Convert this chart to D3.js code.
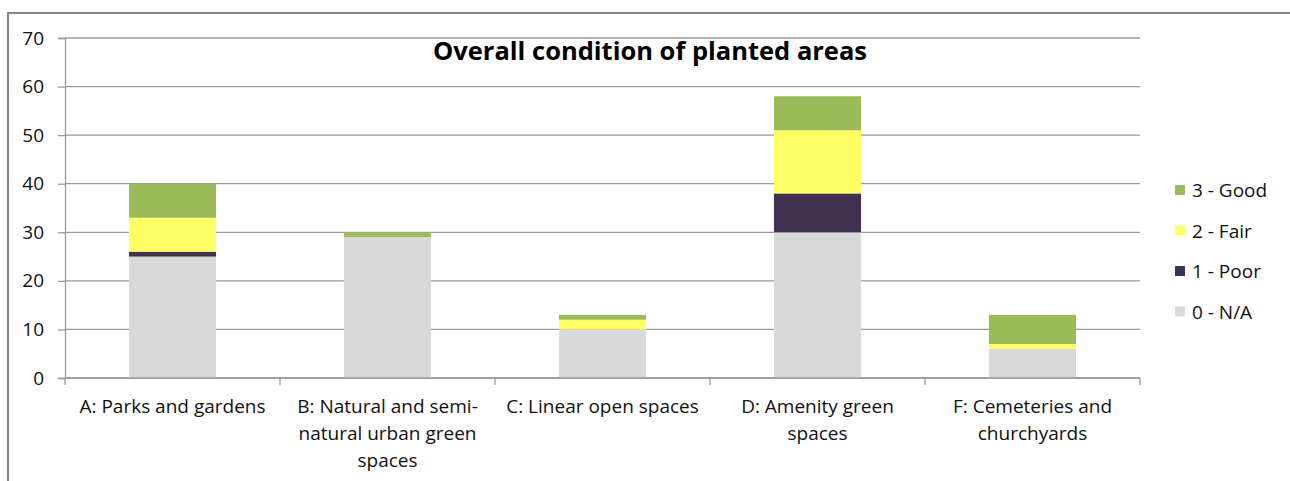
<!DOCTYPE html>
<html><head><meta charset="utf-8">
<script src="https://cdn.jsdelivr.net/npm/d3@7"></script>
<style>
html,body{margin:0;padding:0;background:#fff;}
svg{display:block;font-family:"Open Sans","Liberation Sans",Arial,sans-serif;}
</style></head>
<body><svg id="c" width="1290" height="481"></svg>
<script>
const categories = ["A: Parks and gardens","B: Natural and semi-natural urban green spaces","C: Linear open spaces","D: Amenity green spaces","F: Cemeteries and churchyards"];
const categoryLines = [["A: Parks and gardens"],["B: Natural and semi-","natural urban green","spaces"],["C: Linear open spaces"],["D: Amenity green","spaces"],["F: Cemeteries and","churchyards"]];
const seriesNames = ["0 - N/A","1 - Poor","2 - Fair","3 - Good"];
const naValues   = [25, 29, 10, 30, 6];
const poorValues = [1, 0, 0, 8, 0];
const fairValues = [7, 0, 2, 13, 1];
const goodValues = [7, 1, 1, 7, 6];
const seriesColors = ["#D9D9D9","#403151","#FFFF66","#9BBB59"];
const yTicks = [0,10,20,30,40,50,60,70];
const title = "Overall condition of planted areas";

const svg = d3.select("#c");
svg.append("rect").attr("x",8).attr("y",13).attr("width",1300).attr("height",500)
  .attr("fill","none").attr("stroke","#868686").attr("stroke-width",2);

const L=65, R=1140, T=38, B=378;
const x = d3.scaleBand().domain(categories).range([L,R]).padding(0);
const y = d3.scaleLinear().domain([0,70]).range([B,T]);

svg.append("g").selectAll("line").data(yTicks).join("line")
  .attr("x1",L).attr("x2",R).attr("y1",d=>y(d)).attr("y2",d=>y(d))
  .attr("stroke","#9a9a9a").attr("stroke-width",1.3);

const data = categories.map((c,i)=>({cat:c, "0 - N/A":naValues[i], "1 - Poor":poorValues[i], "2 - Fair":fairValues[i], "3 - Good":goodValues[i]}));
const stacked = d3.stack().keys(seriesNames)(data);
const color = d3.scaleOrdinal().domain(seriesNames).range(seriesColors);
const bw = x.bandwidth()*0.405;

svg.append("g").selectAll("g").data(stacked).join("g").attr("fill",d=>color(d.key))
  .selectAll("rect").data(d=>d).join("rect")
  .attr("x",d=>x(d.data.cat)+(x.bandwidth()-bw)/2)
  .attr("width",bw)
  .attr("y",d=>y(d[1]))
  .attr("height",d=>y(d[0])-y(d[1]));

const ya = svg.append("g").attr("transform",`translate(${L},0)`)
  .call(d3.axisLeft(y).tickValues(yTicks).tickSize(7).tickPadding(14));
ya.select(".domain").attr("stroke","#9a9a9a").attr("stroke-width",1.3);
ya.selectAll(".tick line").attr("stroke","#9a9a9a").attr("stroke-width",1.3);
ya.selectAll(".tick text").attr("font-size",19).attr("fill","#111").attr("font-family","Open Sans, Liberation Sans, Arial, sans-serif");

svg.append("line").attr("x1",L).attr("x2",R).attr("y1",B).attr("y2",B).attr("stroke","#9a9a9a").attr("stroke-width",1.3);
const bounds = categories.map(c=>x(c)).concat([R]);
svg.append("g").selectAll("line").data(bounds).join("line")
  .attr("x1",d=>d).attr("x2",d=>d).attr("y1",B).attr("y2",B+7)
  .attr("stroke","#9a9a9a").attr("stroke-width",1.3);

const xl = svg.append("g");
categories.forEach((c,i)=>{
  const t = xl.append("text").attr("x",x(c)+x.bandwidth()/2).attr("y",413)
    .attr("text-anchor","middle").attr("font-size",19).attr("fill","#111");
  categoryLines[i].forEach((ln,j)=>{
    t.append("tspan").attr("x",x(c)+x.bandwidth()/2).attr("dy",j===0?0:27).text(ln);
  });
});

svg.append("text").attr("x",650).attr("y",60).attr("text-anchor","middle")
  .attr("font-size",25.5).attr("font-weight","bold").attr("fill","#000").text(title);

const legendOrder = seriesNames.slice().reverse();
const lg = svg.append("g");
legendOrder.forEach((s,i)=>{
  const cy = 190 + i*40.5;
  lg.append("rect").attr("x",1175).attr("y",cy-5).attr("width",10).attr("height",10).attr("fill",color(s));
  lg.append("text").attr("x",1192).attr("y",cy+7).attr("font-size",19).attr("fill","#111").text(s);
});
</script></body></html>
